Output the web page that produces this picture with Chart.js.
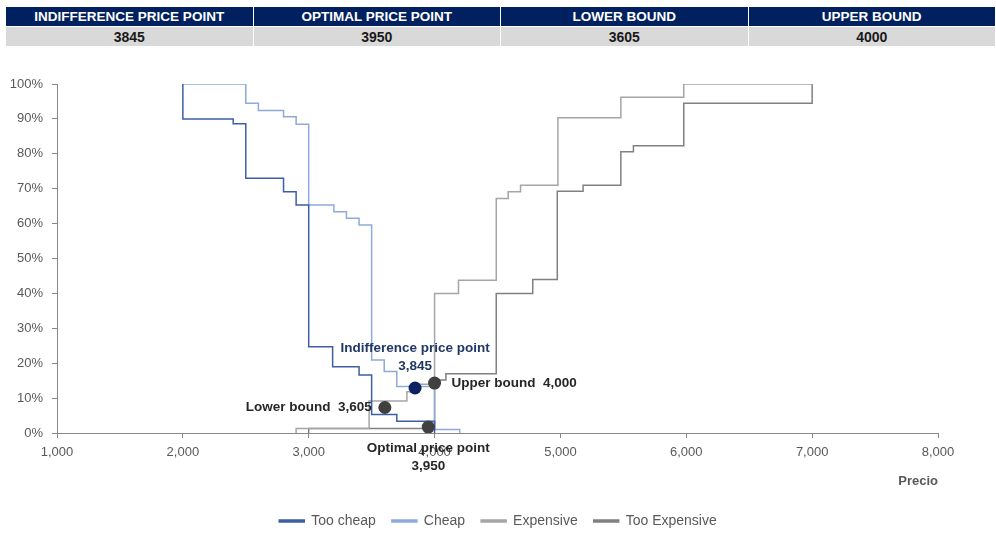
<!DOCTYPE html>
<html>
<head>
<meta charset="utf-8">
<script src="https://cdn.jsdelivr.net/npm/chart.js@4.4.1/dist/chart.umd.min.js"></script>
<style>
  html, body { margin: 0; padding: 0; background: #fff; overflow: hidden; }
  body { width: 996px; height: 534px; position: relative; font-family: "Liberation Sans", Arial, sans-serif; }
  #summary { position: absolute; left: 5px; top: 6px; width: 991px; border-collapse: collapse; table-layout: fixed; }
  #summary th, #summary td { border: 1px solid #fff; padding: 0; text-align: center; font-weight: bold; }
  #summary th { background: #002060; color: #fff; height: 19px; font-size: 13.5px; }
  #summary td { background: #d9d9d9; color: #1a1a1a; height: 19px; font-size: 14px; }
  #wrap { position: absolute; left: 0; top: 55px; width: 996px; height: 483px; }
</style>
</head>
<body>
<table id="summary"><tr id="heads"></tr><tr id="vals"></tr></table>
<div id="wrap"><canvas id="psm"></canvas></div>
<script>
// price sensitivity curves (price, % of respondents)
const tooCheapPrice = [2000, 2000, 2400, 2500, 2800, 2900, 3000, 3190, 3400, 3500, 3700, 4000];
const tooCheapShare = [100, 90, 88.6, 73, 69.1, 65.3, 24.7, 19, 16.6, 5.3, 3.4, 0];

const cheapPrice = [2000, 2500, 2600, 2800, 2900, 3000, 3200, 3300, 3400, 3500, 3600, 3700, 4000, 4200];
const cheapShare = [100, 94.5, 92.4, 90.6, 88.5, 65.3, 63.4, 61.5, 59.6, 20.9, 17.6, 13.3, 1, 0];

const expensivePrice = [2900, 2900, 3480, 3780, 3845, 4000, 4190, 4490, 4585, 4683, 4980, 5480, 5980, 7000];
const expensiveShare = [0, 1.3, 9.2, 11.8, 14, 40, 43.8, 67.2, 69.1, 71, 90.3, 96.2, 100, 100];

const tooExpPrice = [3000, 3000, 4000, 4090, 4490, 4780, 4975, 5180, 5480, 5580, 5980, 7000];
const tooExpShare = [0, 1.3, 15.2, 17, 40, 44, 69.3, 71, 80.6, 82.3, 94.5, 100];

// key price points
const markTitles = ['INDIFFERENCE PRICE POINT', 'OPTIMAL PRICE POINT', 'LOWER BOUND', 'UPPER BOUND'];
const markNames = ['Indifference price point', 'Optimal price point', 'Lower bound', 'Upper bound'];
const markPrice = [3845, 3950, 3605, 4000];
const markShare = [12.9, 1.7, 7.3, 14.3];

const seriesNames = ['Too cheap', 'Cheap', 'Expensive', 'Too Expensive'];
const xTicks = [1000, 2000, 3000, 4000, 5000, 6000, 7000, 8000];

// summary table on top
document.getElementById('heads').innerHTML = markTitles.map(t => '<th>' + t + '</th>').join('');
document.getElementById('vals').innerHTML = markPrice.map(p => '<td>' + p + '</td>').join('');

const FONT = '"Liberation Sans", Arial, sans-serif';
const fmt = v => v.toLocaleString('en-US');

function pts(xs, ys) {
    return xs.map((x, i) => ({ x: x, y: ys[i] }));
}

function curve(label, xs, ys, color) {
    return {
        type: 'line',
        label: label,
        data: pts(xs, ys),
        borderColor: color,
        backgroundColor: color,
        borderWidth: 1.5,
        pointRadius: 0,
        stepped: 'before',
        fill: false
    };
}

// where each label sits next to its dot
const labelSide = ['above', 'below', 'left', 'right'];
const labelColor = ['#1f3864', '#262626', '#262626', '#262626'];

const pointLabels = {
    id: 'pointLabels',
    afterDatasetsDraw(chart) {
        const { ctx, scales: { x, y } } = chart;
        ctx.save();
        ctx.font = 'bold 13.5px ' + FONT;
        ctx.textBaseline = 'middle';
        markPrice.forEach((p, i) => {
            const px = x.getPixelForValue(p);
            const py = y.getPixelForValue(markShare[i]);
            ctx.fillStyle = labelColor[i];
            const side = labelSide[i];
            if (side === 'above') {
                ctx.textAlign = 'center';
                ctx.fillText(markNames[i], px, py - 40);
                ctx.fillText(fmt(p), px, py - 22);
            } else if (side === 'below') {
                ctx.textAlign = 'center';
                ctx.fillText(markNames[i], px, py + 21);
                ctx.fillText(fmt(p), px, py + 39);
            } else if (side === 'left') {
                ctx.textAlign = 'right';
                ctx.fillText(markNames[i] + '  ' + fmt(p), px - 13, py);
            } else {
                ctx.textAlign = 'left';
                ctx.fillText(markNames[i] + '  ' + fmt(p), px + 17, py);
            }
        });
        ctx.restore();
    }
};

new Chart(document.getElementById('psm'), {
    data: {
        datasets: [
            {
                type: 'scatter',
                label: 'marks',
                data: pts(markPrice, markShare),
                pointRadius: 6.5,
                pointHoverRadius: 6.5,
                pointBackgroundColor: ['#0b2161', '#404040', '#404040', '#404040'],
                pointBorderWidth: 0,
                order: 0
            },
            Object.assign(curve(seriesNames[0], tooCheapPrice, tooCheapShare, '#3c5fa5'), { order: 1 }),
            Object.assign(curve(seriesNames[1], cheapPrice, cheapShare, '#8eaadb'), { order: 2 }),
            Object.assign(curve(seriesNames[2], expensivePrice, expensiveShare, '#a5a5a5'), { order: 3 }),
            Object.assign(curve(seriesNames[3], tooExpPrice, tooExpShare, '#808080'), { order: 4 })
        ]
    },
    options: {
        responsive: true,
        maintainAspectRatio: false,
        animation: false,
        layout: { padding: { top: 29, right: 0, left: 0, bottom: 0 } },
        scales: {
            x: {
                type: 'linear',
                min: 1000,
                max: 8000,
                afterBuildTicks: s => { s.ticks = xTicks.map(v => ({ value: v })); },
                afterFit: s => { s.height = 65; },
                grid: { drawOnChartArea: false, drawTicks: true, tickLength: 5, color: '#888' },
                border: { color: '#888', width: 1 },
                ticks: {
                    color: '#595959',
                    font: { family: FONT, size: 13 },
                    padding: 7,
                    maxRotation: 0,
                    callback: v => fmt(v)
                },
                title: {
                    display: true,
                    text: 'Precio',
                    align: 'end',
                    color: '#595959',
                    font: { family: FONT, size: 13, weight: 'bold' },
                    padding: { top: 4, bottom: 9 }
                }
            },
            y: {
                min: 0,
                max: 100,
                afterFit: s => { s.width = 57; },
                grid: { drawOnChartArea: false, drawTicks: true, tickLength: 5, color: '#888' },
                border: { color: '#888', width: 1 },
                ticks: {
                    stepSize: 10,
                    color: '#595959',
                    font: { family: FONT, size: 13 },
                    padding: 9,
                    callback: v => v + '%'
                }
            },
            // empty right-hand box so the plot ends at 8,000 while the legend stays centred on the page
            spacer: {
                type: 'linear',
                position: 'right',
                afterFit: s => { s.width = 58; },
                grid: { display: false },
                border: { display: false },
                ticks: { display: false }
            }
        },
        plugins: {
            legend: {
                position: 'bottom',
                labels: {
                    filter: item => item.text !== 'marks',
                    boxWidth: 25,
                    boxHeight: 2,
                    padding: 16,
                    color: '#595959',
                    font: { family: FONT, size: 14 }
                }
            },
            tooltip: { enabled: false }
        }
    },
    plugins: [pointLabels]
});
</script>
</body>
</html>
